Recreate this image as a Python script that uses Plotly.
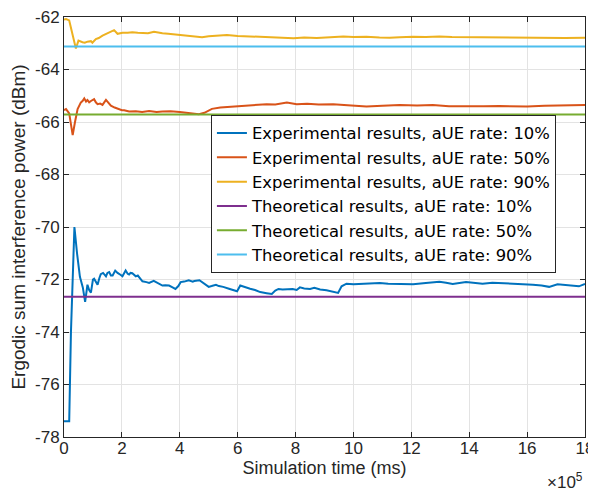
import plotly.graph_objects as go

# time in units of 1e5 ms
x_exp10 = [0, 0.18, 0.24, 0.36, 0.45, 0.55, 0.65, 0.73, 0.81, 0.87, 0.93, 1.0, 1.04, 1.1, 1.16, 1.22, 1.27, 1.35, 1.45, 1.5, 1.56, 1.62, 1.68, 1.77, 1.85, 1.95, 2.02, 2.13, 2.2, 2.25, 2.3, 2.36, 2.48, 2.55, 2.65, 2.71, 2.85, 2.94, 3.1, 3.25, 3.4, 3.5, 3.63, 3.75, 3.85, 3.95, 4.03, 4.15, 4.31, 4.45, 4.5, 4.68, 4.85, 5.0, 5.1, 5.25, 5.35, 5.5, 5.7, 5.9, 5.98, 6.09, 6.25, 6.43, 6.6, 6.78, 7.0, 7.18, 7.3, 7.41, 7.55, 7.7, 7.9, 8.04, 8.15, 8.3, 8.5, 8.65, 8.85, 9.07, 9.3, 9.47, 9.59, 9.76, 10.0, 10.22, 10.5, 10.91, 11.2, 11.6, 12.06, 12.5, 12.97, 13.2, 13.43, 13.89, 14.2, 14.46, 14.8, 15.04, 15.4, 15.73, 16.2, 16.5, 16.76, 17.05, 17.4, 17.79, 18.0]
y_exp10 = [-77.4, -77.4, -74.0, -70.0, -71.0, -71.9, -72.3, -72.85, -72.2, -72.4, -72.5, -72.0, -71.97, -72.1, -72.2, -71.95, -71.8, -71.75, -71.88, -71.75, -71.72, -71.85, -71.85, -71.66, -71.75, -71.82, -71.88, -71.66, -71.78, -71.81, -71.75, -71.76, -71.88, -71.85, -72.0, -72.07, -72.1, -72.13, -72.05, -72.15, -72.23, -72.22, -72.23, -72.3, -72.36, -72.25, -72.1, -72.08, -72.03, -72.08, -72.06, -72.03, -72.15, -72.28, -72.25, -72.2, -72.25, -72.28, -72.35, -72.42, -72.45, -72.23, -72.3, -72.35, -72.4, -72.48, -72.52, -72.55, -72.42, -72.36, -72.38, -72.38, -72.36, -72.4, -72.3, -72.34, -72.36, -72.32, -72.38, -72.41, -72.47, -72.51, -72.26, -72.16, -72.18, -72.17, -72.15, -72.13, -72.16, -72.16, -72.18, -72.13, -72.09, -72.12, -72.17, -72.1, -72.12, -72.16, -72.12, -72.13, -72.15, -72.16, -72.2, -72.23, -72.28, -72.18, -72.22, -72.26, -72.17]

x_exp50 = [0, 0.07, 0.18, 0.24, 0.3, 0.38, 0.47, 0.58, 0.64, 0.7, 0.76, 0.81, 0.87, 0.93, 1.04, 1.1, 1.16, 1.25, 1.33, 1.45, 1.55, 1.62, 1.75, 1.85, 2.0, 2.08, 2.25, 2.48, 2.7, 2.94, 3.2, 3.4, 3.68, 4.0, 4.3, 4.66, 4.85, 5.11, 5.4, 5.86, 6.1, 6.43, 6.7, 7.0, 7.3, 7.7, 8.04, 8.4, 8.8, 9.3, 9.8, 10.45, 11.0, 11.6, 12.2, 12.74, 13.3, 13.89, 14.5, 15.04, 15.5, 16.0, 16.6, 17.33, 18.0]
y_exp50 = [-65.55, -65.51, -65.67, -66.1, -66.5, -66.0, -65.51, -65.26, -65.2, -65.1, -65.22, -65.16, -65.25, -65.2, -65.13, -65.25, -65.32, -65.3, -65.35, -65.16, -65.3, -65.38, -65.45, -65.49, -65.55, -65.55, -65.6, -65.59, -65.62, -65.58, -65.62, -65.6, -65.59, -65.62, -65.65, -65.7, -65.65, -65.5, -65.45, -65.41, -65.4, -65.36, -65.36, -65.32, -65.33, -65.26, -65.32, -65.3, -65.33, -65.32, -65.36, -65.41, -65.38, -65.35, -65.37, -65.35, -65.4, -65.41, -65.4, -65.39, -65.41, -65.41, -65.38, -65.35, -65.35]

x_exp90 = [0, 0.07, 0.18, 0.24, 0.3, 0.41, 0.5, 0.58, 0.64, 0.72, 0.81, 0.93, 0.98, 1.1, 1.2, 1.33, 1.45, 1.56, 1.73, 1.85, 2.02, 2.2, 2.36, 2.55, 2.71, 2.9, 3.11, 3.25, 3.4, 3.6, 3.85, 4.1, 4.31, 4.55, 4.77, 5.0, 5.23, 5.63, 6.0, 6.43, 7.0, 7.5, 7.93, 8.3, 8.73, 9.2, 9.65, 10.0, 10.45, 10.9, 11.25, 11.6, 12.06, 12.5, 12.97, 13.4, 14.0, 14.5, 15.04, 15.5, 16.0, 16.76, 17.3, 18.0]
y_exp90 = [-62.1, -62.08, -62.13, -62.4, -62.71, -63.2, -62.9, -62.95, -62.96, -62.98, -62.94, -62.92, -62.98, -62.84, -62.8, -62.71, -62.65, -62.58, -62.5, -62.64, -62.6, -62.6, -62.58, -62.6, -62.6, -62.62, -62.56, -62.6, -62.62, -62.64, -62.67, -62.7, -62.74, -62.76, -62.77, -62.73, -62.72, -62.69, -62.72, -62.74, -62.76, -62.8, -62.81, -62.78, -62.8, -62.77, -62.74, -62.76, -62.75, -62.78, -62.79, -62.77, -62.75, -62.76, -62.74, -62.76, -62.77, -62.77, -62.78, -62.78, -62.79, -62.81, -62.8, -62.79]

x_theory = [0, 18]
y_theory10 = [-72.66, -72.66]
y_theory50 = [-65.71, -65.71]
y_theory90 = [-63.12, -63.12]

x_ticks = [0, 2, 4, 6, 8, 10, 12, 14, 16, 18]
y_ticks = [-78, -76, -74, -72, -70, -68, -66, -64, -62]

names = ["Experimental results, aUE rate: 10%", "Experimental results, aUE rate: 50%",
         "Experimental results, aUE rate: 90%", "Theoretical results, aUE rate: 10%",
         "Theoretical results, aUE rate: 50%", "Theoretical results, aUE rate: 90%"]
colors = ["#0072BD", "#D95319", "#EDB120", "#7E2F8E", "#77AC30", "#4DBEEE"]

series = [(x_exp10, y_exp10), (x_exp50, y_exp50), (x_exp90, y_exp90),
          (x_theory, y_theory10), (x_theory, y_theory50), (x_theory, y_theory90)]

FONT = "Liberation Sans, Arial, Helvetica, sans-serif"
LEGEND_FONT = "DejaVu Sans, Liberation Sans, sans-serif"

fig = go.Figure()
for (xs, ys), n, c in zip(series, names, colors):
    fig.add_trace(go.Scatter(x=xs, y=ys, mode="lines", name=n,
                             line=dict(color=c, width=2)))

axis_common = dict(showline=True, linecolor="#262626", linewidth=1, mirror="ticks",
                   ticks="inside", ticklen=5, tickcolor="#262626", automargin=False,
                   ticklabeloverflow="allow",
                   showgrid=True, gridcolor="#e3e3e3", gridwidth=1, zeroline=False,
                   tickfont=dict(family=FONT, size=17, color="#262626"))

# page body has an 8px default margin; figure size compensates for it
fig.update_layout(
    width=588, height=483,
    margin=dict(l=56, r=10.5, t=9, b=54),
    paper_bgcolor="white", plot_bgcolor="white",
    font=dict(family=FONT, color="#262626"),
    showlegend=True,
    legend=dict(x=0.282, y=0.767, xanchor="left", yanchor="top",
                bgcolor="white", bordercolor="#262626", borderwidth=1,
                font=dict(family=LEGEND_FONT, size=16.4, color="#000000"),
                tracegroupgap=0, itemwidth=30),
    xaxis=dict(range=[0, 18], tickvals=x_ticks, ticktext=[str(v) for v in x_ticks],
               ticklabelstandoff=-4,
               title=dict(text="Simulation time (ms)", font=dict(family=FONT, size=18), standoff=3),
               **axis_common),
    yaxis=dict(range=[-78, -62], tickvals=y_ticks, ticktext=[str(v) for v in y_ticks],
               title=dict(text="Ergodic sum interference power (dBm)", font=dict(family=FONT, size=19), standoff=5),
               **axis_common),
)

fig.add_annotation(xref="paper", yref="paper", x=1.0, y=-0.105, xanchor="right", yanchor="middle",
                   text="×10<sup>5</sup>", showarrow=False,
                   font=dict(family=FONT, size=17, color="#262626"))

fig.write_html("out.html")
